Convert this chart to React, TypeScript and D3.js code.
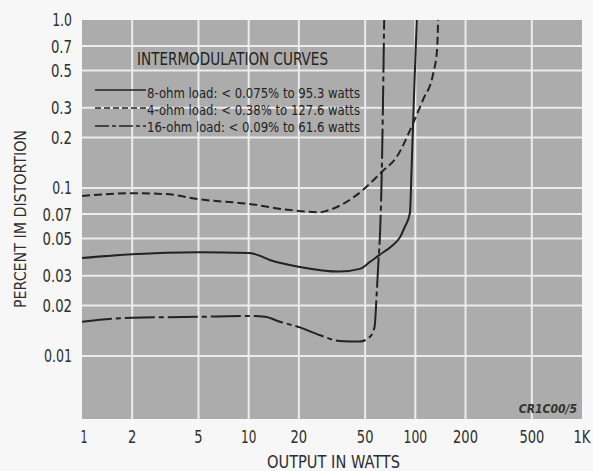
import React from "react";
import * as d3 from "d3";

const xTicks = [1, 2, 5, 10, 20, 50, 100, 200, 500, 1000];
const xTickLabels = ["1", "2", "5", "10", "20", "50", "100", "200", "500", "1K"];
const yTicks = [1.0, 0.7, 0.5, 0.3, 0.2, 0.1, 0.07, 0.05, 0.03, 0.02, 0.01];
const yTickLabels = ["1.0", "0.7", "0.5", "0.3", "0.2", "0.1", "0.07", "0.05", "0.03", "0.02", "0.01"];

// 8-ohm load (solid)
const ohm8Watts = [1, 2, 5, 10, 10.9, 13.4, 20.3, 35, 46.5, 53.4, 61, 72, 81, 86, 92.8, 95, 98, 102];
const ohm8Pct = [0.0383, 0.0404, 0.0415, 0.041, 0.0404, 0.0373, 0.0339, 0.0318, 0.033, 0.0363, 0.04, 0.045, 0.051, 0.058, 0.071, 0.133, 0.334, 1.0];

// 4-ohm load (dashed)
const ohm4Watts = [1, 2, 3.2, 5, 10, 17.7, 26.8, 29.5, 44.6, 63, 77.6, 95, 111, 128, 135, 137];
const ohm4Pct = [0.0896, 0.093, 0.092, 0.0858, 0.0805, 0.0739, 0.0718, 0.0733, 0.091, 0.125, 0.154, 0.232, 0.334, 0.48, 0.663, 1.0];

// 16-ohm load (dash-dot)
const ohm16Watts = [1, 2, 5, 10, 12.5, 15.4, 20.3, 26.8, 35, 46.5, 53.4, 57, 58.5, 60, 61.5, 63, 64, 65];
const ohm16Pct = [0.016, 0.0169, 0.0171, 0.0173, 0.0171, 0.016, 0.0148, 0.0133, 0.0123, 0.0122, 0.013, 0.015, 0.0225, 0.0358, 0.056, 0.133, 0.334, 1.0];

const legendLabels = [
  "8-ohm load: < 0.075% to 95.3 watts",
  "4-ohm load: < 0.38% to 127.6 watts",
  "16-ohm load: < 0.09% to 61.6 watts",
];

const FONT = "'Liberation Sans Narrow','DejaVu Sans Condensed','Roboto Condensed',sans-serif";

// approximate rendered width of a numeric tick label in the reference's condensed face
function labelWidth(s: string) {
  let w = 0;
  for (const c of s) {
    if (c === ".") w += 4.5;
    else if (c === "K") w += 10;
    else if (c === "1") w += 7;
    else w += 8.3;
  }
  return w;
}

export default function App() {
  const W = 593, H = 471;
  const left = 82, right = 582, top = 20, bottom = 419;
  const x = d3.scaleLog().domain([1, 1000]).range([left, right]);
  const y = d3.scaleLog().domain([0.01, 1]).range([356, top]);

  const line = d3
    .line<[number, number]>()
    .x((d) => x(d[0]))
    .y((d) => y(d[1]))
    .curve(d3.curveMonotoneX);

  const zip = (a: number[], b: number[]) => a.map((v, i) => [v, b[i]] as [number, number]);

  const series = [
    { d: line(zip(ohm8Watts, ohm8Pct)), dash: undefined, ldash: undefined },
    { d: line(zip(ohm4Watts, ohm4Pct)), dash: "8,4", ldash: "6,3" },
    { d: line(zip(ohm16Watts, ohm16Pct)), dash: "30,4,5,4", ldash: "14,3,4,3" },
  ];

  const legendY = [90, 108, 126];
  const legendBase = [98, 115, 132];
  const txt = "#2e2e2e";

  return (
    <svg
      width={W}
      height={H}
      style={{ position: "absolute", left: 0, top: 0, background: "#f7f7f7" }}
      fontFamily={FONT}
    >
      <rect x={0} y={0} width={W} height={H} fill="#f7f7f7" />
      <rect x={left} y={top} width={right - left} height={bottom - top} fill="#acacac" />
      {xTicks.slice(1, -1).map((t) => (
        <line key={"gx" + t} x1={x(t)} x2={x(t)} y1={top} y2={bottom} stroke="#ececec" strokeWidth={2} />
      ))}
      {yTicks.slice(1).map((t) => (
        <line key={"gy" + t} x1={left} x2={right} y1={y(t)} y2={y(t)} stroke="#ececec" strokeWidth={2} />
      ))}
      <defs>
        <clipPath id="plotclip">
          <rect x={left} y={top} width={right - left} height={bottom - top} />
        </clipPath>
      </defs>
      <g clipPath="url(#plotclip)">
        {series.map((s, i) => (
          <path key={i} d={s.d || ""} fill="none" stroke="#222" strokeWidth={2} strokeDasharray={s.dash} />
        ))}
      </g>
      {/* title */}
      <text x={137} y={65} fontSize={17.5} fill="#222" textLength={191} lengthAdjust="spacingAndGlyphs">
        INTERMODULATION CURVES
      </text>
      {legendLabels.map((l, i) => (
        <g key={l}>
          <line x1={95} x2={146} y1={legendY[i]} y2={legendY[i]} stroke="#222" strokeWidth={1.6} strokeDasharray={series[i].ldash} />
          <text x={147} y={legendBase[i]} fontSize={14.5} fill="#222" textLength={213} lengthAdjust="spacingAndGlyphs">
            {l}
          </text>
        </g>
      ))}
      {/* y ticks */}
      {yTicks.map((t, i) => (
        <text
          key={"yt" + t}
          x={72 - labelWidth(yTickLabels[i])}
          y={y(t)}
          dy="0.36em"
          fontSize={18}
          fill={txt}
          textLength={labelWidth(yTickLabels[i])}
          lengthAdjust="spacingAndGlyphs"
        >
          {yTickLabels[i]}
        </text>
      ))}
      {/* x ticks */}
      {xTicks.map((t, i) => (
        <text
          key={"xt" + t}
          x={x(t) + (i === 0 ? 2 : 0) - labelWidth(xTickLabels[i]) / 2}
          y={443}
          fontSize={18}
          fill={txt}
          textLength={labelWidth(xTickLabels[i])}
          lengthAdjust="spacingAndGlyphs"
        >
          {xTickLabels[i]}
        </text>
      ))}
      <text x={267} y={468} fontSize={17.5} fill={txt} textLength={133} lengthAdjust="spacingAndGlyphs">
        OUTPUT IN WATTS
      </text>
      <text
        transform={`translate(26,308) rotate(-90)`}
        fontSize={15}
        fill={txt}
        textLength={178}
        lengthAdjust="spacingAndGlyphs"
      >
        PERCENT IM DISTORTION
      </text>
      <text x={577} y={413} textAnchor="end" fontSize={12} fontStyle="italic" fontWeight="bold" fill="#333">
        CR1C00/5
      </text>
    </svg>
  );
}
